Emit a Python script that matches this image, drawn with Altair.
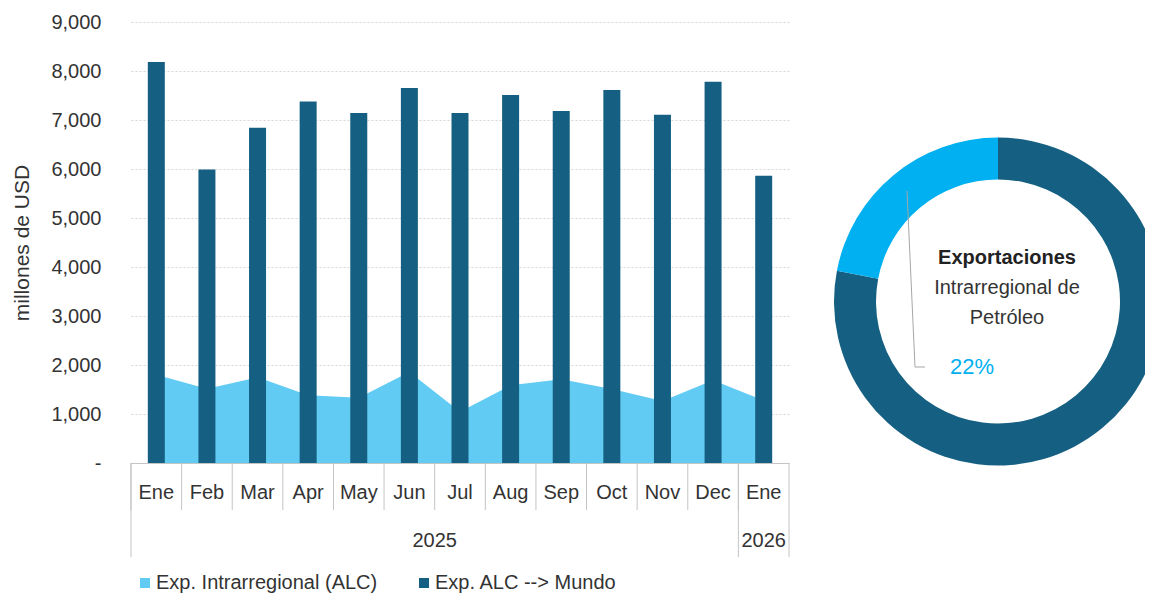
import altair as alt
import pandas as pd

# ---------------- data ----------------
months = ["Ene", "Feb", "Mar", "Apr", "May", "Jun", "Jul", "Aug", "Sep", "Oct", "Nov", "Dec", "Ene"]
years = ["2025"] * 12 + ["2026"]
mundo = [8184, 5990, 6843, 7380, 7143, 7654, 7143, 7511, 7184, 7613, 7108, 7783, 5863]
intra = [1803, 1517, 1748, 1381, 1333, 1857, 1048, 1585, 1707, 1510, 1265, 1690, 1275]
series_names = ["Exp. Intrarregional (ALC)", "Exp. ALC --> Mundo"]
series_colors = ["#62CBF3", "#156082"]
y_ticks = [0, 1000, 2000, 3000, 4000, 5000, 6000, 7000, 8000, 9000]

donut_parts = ["ALC --> Mundo", "Intrarregional"]
donut_share = [78, 22]
donut_colors = ["#156082", "#00B0F0"]
center_text = ["Exportaciones", "Intrarregional de", "Petróleo"]

FONT = "Liberation Sans, Arial, sans-serif"
TXT = "#333333"
LINE = "#c4c4c4"

keys = [f"{m}-{y}" for m, y in zip(months, years)]

rows = []
for k, m, y, a, b in zip(keys, months, years, intra, mundo):
    rows.append({"key": k, "month": m, "year": y, "series": series_names[0], "value": a})
    rows.append({"key": k, "month": m, "year": y, "series": series_names[1], "value": b})
df = pd.DataFrame(rows)
cats = pd.DataFrame({"key": keys, "month": months, "year": years})

# year boundaries and label anchors
uniq_years = list(dict.fromkeys(years))
first_keys, last_keys, mid_even, mid_odd = [], [], [], []
for yr in uniq_years:
    ks = [k for k, y in zip(keys, years) if y == yr]
    first_keys.append(ks[0])
    last_keys.append(ks[-1])
    n = len(ks)
    if n % 2 == 0:
        mid_even.append({"key": ks[n // 2 - 1], "year": yr})
    else:
        mid_odd.append({"key": ks[n // 2], "year": yr})

x_scale = alt.Scale(domain=keys, paddingInner=0, paddingOuter=0)
x_enc = alt.X("key:N", sort=keys, scale=x_scale,
              axis=alt.Axis(labels=False, ticks=False, title=None, grid=False,
                            domainColor=LINE, domainWidth=1))

color_enc = alt.Color(
    "series:N",
    scale=alt.Scale(domain=series_names, range=series_colors),
    legend=alt.Legend(orient="none", legendX=4, legendY=551, direction="horizontal",
                      title=None, symbolType="square", symbolSize=100,
                      symbolStrokeWidth=0, symbolOpacity=1,
                      labelFont=FONT, labelFontSize=20, labelColor=TXT, labelLimit=0,
                      labelOffset=1, columnPadding=36),
)

y_enc = alt.Y(
    "value:Q",
    scale=alt.Scale(domain=[0, 9000], nice=False),
    axis=alt.Axis(values=y_ticks, title="millones de USD",
                  labelExpr="datum.value == 0 ? '-' : format(datum.value, ',')",
                  labelFont=FONT, labelFontSize=20, labelColor=TXT, labelPadding=30,
                  ticks=False, tickSize=0, domain=False,
                  grid=True, gridColor="#d6d6d6", gridDash=[2, 2], gridWidth=1,
                  titleFont=FONT, titleFontSize=21, titleFontWeight="normal",
                  titleColor=TXT, titlePadding=18),
)

area = alt.Chart(df).transform_filter(
    alt.datum.series == series_names[0]
).mark_area(opacity=1, interpolate="linear").encode(x=x_enc, y=y_enc, color=color_enc)

bars = alt.Chart(df).transform_filter(
    alt.datum.series == series_names[1]
).mark_bar(size=17).encode(x=x_enc, y=y_enc, color=color_enc)

series_layer = alt.layer(area, bars)

x_edge0 = alt.X("key:N", sort=keys, scale=x_scale, bandPosition=0)
x_edge1 = alt.X("key:N", sort=keys, scale=x_scale, bandPosition=1)
x_mid = alt.X("key:N", sort=keys, scale=x_scale, bandPosition=0.5)

short_rules = alt.Chart(cats).mark_rule(color=LINE, strokeWidth=1).encode(
    x=x_edge0, y=alt.value(441), y2=alt.value(488))
long_rules_l = alt.Chart(pd.DataFrame({"key": first_keys})).mark_rule(color=LINE, strokeWidth=1).encode(
    x=x_edge0, y=alt.value(441), y2=alt.value(535))
long_rules_r = alt.Chart(pd.DataFrame({"key": [last_keys[-1]]})).mark_rule(color=LINE, strokeWidth=1).encode(
    x=x_edge1, y=alt.value(441), y2=alt.value(535))

month_text = alt.Chart(cats).mark_text(font=FONT, fontSize=20, color=TXT, baseline="middle").encode(
    x=x_mid, y=alt.value(471), text="month:N")

year_even = alt.Chart(pd.DataFrame(mid_even)).mark_text(font=FONT, fontSize=20, color=TXT, baseline="middle").encode(
    x=x_edge1, y=alt.value(519), text="year:N")
year_odd = alt.Chart(pd.DataFrame(mid_odd)).mark_text(font=FONT, fontSize=20, color=TXT, baseline="middle").encode(
    x=x_mid, y=alt.value(519), text="year:N")

# ---------------- donut ----------------
donut_df = pd.DataFrame({"part": donut_parts, "share": donut_share, "idx": list(range(len(donut_parts)))})
CX, CY = 867, 279.5
donut = alt.Chart(donut_df).mark_arc(outerRadius=164, innerRadius=122, strokeWidth=0).encode(
    theta=alt.Theta("share:Q", stack=True),
    order=alt.Order("idx:Q"),
    color=alt.Color("part:N", scale=alt.Scale(domain=donut_parts, range=donut_colors), legend=None),
    x=alt.value(CX), y=alt.value(CY),
)

one = pd.DataFrame({"a": [0]})
leader1 = alt.Chart(one).mark_rule(color="#a6a6a6", strokeWidth=1).encode(
    x=alt.value(776), y=alt.value(169), x2=alt.value(784), y2=alt.value(345))
leader2 = alt.Chart(one).mark_rule(color="#a6a6a6", strokeWidth=1).encode(
    x=alt.value(784), y=alt.value(345), x2=alt.value(794), y2=alt.value(345))

t1 = alt.Chart(pd.DataFrame({"t": [center_text[0]]})).mark_text(
    font=FONT, fontSize=20, fontWeight="bold", color="#222222", baseline="middle").encode(
    x=alt.value(876), y=alt.value(236), text="t:N")
t2 = alt.Chart(pd.DataFrame({"t": [center_text[1]]})).mark_text(
    font=FONT, fontSize=20, color="#333333", baseline="middle").encode(
    x=alt.value(876), y=alt.value(266), text="t:N")
t3 = alt.Chart(pd.DataFrame({"t": [center_text[2]]})).mark_text(
    font=FONT, fontSize=20, color="#333333", baseline="middle").encode(
    x=alt.value(876), y=alt.value(296), text="t:N")
pct = alt.Chart(pd.DataFrame({"t": [f"{donut_share[1]}%"]})).mark_text(
    font=FONT, fontSize=22, color="#00B0F0", baseline="middle").encode(
    x=alt.value(841), y=alt.value(345), text="t:N")

chart = alt.layer(
    series_layer, short_rules, long_rules_l, long_rules_r, month_text, year_even, year_odd,
    donut, leader1, leader2, t1, t2, t3, pct,
).resolve_scale(color="independent").properties(
    width=658, height=441,
    autosize=alt.AutoSizeParams(type="none"),
    padding={"left": 123, "top": 14, "right": 356, "bottom": 132},
    background="white",
).configure_view(strokeWidth=0)

chart.save("out.html", embed_options={"renderer": "svg", "actions": False})
